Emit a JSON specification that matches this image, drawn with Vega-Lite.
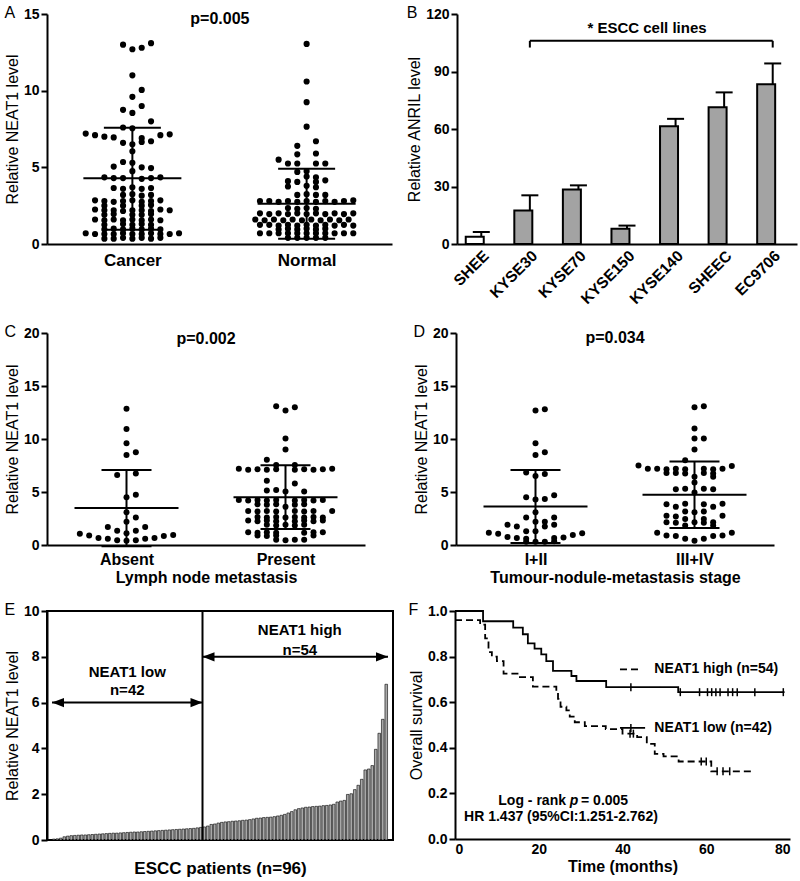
{
"$schema": "https://vega.github.io/schema/vega-lite/v6.json",
"background": "white",
"padding": {"left": 3, "top": 5, "right": 5, "bottom": 3},
"config": {
 "font": "Liberation Sans",
 "view": {"stroke": null},
 "axis": {"grid": false, "domainColor": "black", "domainWidth": 2, "tickColor": "black", "tickWidth": 2, "tickSize": 6, "labelColor": "black", "labelFontSize": 14, "labelFontWeight": "bold", "labelPadding": 2, "titleColor": "black", "titleFontSize": 16, "titleFontWeight": "normal", "titlePadding": 3, "labelFont": "Liberation Sans", "titleFont": "Liberation Sans"},
 "title": {"fontSize": 16, "fontWeight": "normal", "anchor": "start", "color": "black", "font": "Liberation Sans", "offset": -14}
},
"datasets": {
 "A": [
  {"g":"Cancer","s":-1,"v":13.0},{"g":"Cancer","s":0,"v":12.7},{"g":"Cancer","s":1,"v":12.8},{"g":"Cancer","s":2,"v":13.1},
  {"g":"Cancer","s":0,"v":11.0},{"g":"Cancer","s":1,"v":10.05},{"g":"Cancer","s":0,"v":9.6},{"g":"Cancer","s":1,"v":9.0},{"g":"Cancer","s":-1,"v":8.75},{"g":"Cancer","s":0,"v":8.55},{"g":"Cancer","s":2,"v":8.0},{"g":"Cancer","s":-1,"v":7.6},{"g":"Cancer","s":0,"v":7.55},
  {"g":"Cancer","s":-5,"v":7.2},{"g":"Cancer","s":-4,"v":7.1},{"g":"Cancer","s":-3,"v":7.0},{"g":"Cancer","s":-2,"v":6.95},{"g":"Cancer","s":1,"v":6.9},{"g":"Cancer","s":3,"v":7.1},{"g":"Cancer","s":4,"v":7.15},
  {"g":"Cancer","s":-1,"v":6.6},{"g":"Cancer","s":0,"v":6.5},{"g":"Cancer","s":1,"v":6.65},{"g":"Cancer","s":2,"v":6.7},{"g":"Cancer","s":0,"v":6.05},{"g":"Cancer","s":-1,"v":5.35},{"g":"Cancer","s":0,"v":5.3},{"g":"Cancer","s":-2,"v":5.05},{"g":"Cancer","s":1,"v":5.0},{"g":"Cancer","s":2,"v":4.95},{"g":"Cancer","s":0,"v":4.75},
  {"g":"Cancer","s":-3,"v":4.35},{"g":"Cancer","s":-2,"v":4.3},{"g":"Cancer","s":-1,"v":4.3},{"g":"Cancer","s":1,"v":4.25},{"g":"Cancer","s":2,"v":4.3},{"g":"Cancer","s":3,"v":4.35},
  {"g":"Cancer","s":-2,"v":3.65},{"g":"Cancer","s":-1,"v":3.6},{"g":"Cancer","s":0,"v":3.7},{"g":"Cancer","s":1,"v":3.6},{"g":"Cancer","s":2,"v":3.65},
  {"g":"Cancer","s":-1,"v":3.2},{"g":"Cancer","s":0,"v":3.25},{"g":"Cancer","s":1,"v":3.15},{"g":"Cancer","s":2,"v":3.2},
  {"g":"Cancer","s":-4,"v":2.85},{"g":"Cancer","s":-3,"v":2.8},{"g":"Cancer","s":-2,"v":2.75},{"g":"Cancer","s":-1,"v":2.8},{"g":"Cancer","s":0,"v":2.85},{"g":"Cancer","s":1,"v":2.75},{"g":"Cancer","s":2,"v":2.8},{"g":"Cancer","s":3,"v":2.85},
  {"g":"Cancer","s":-3,"v":2.5},{"g":"Cancer","s":-1,"v":2.5},{"g":"Cancer","s":1,"v":2.5},{"g":"Cancer","s":2,"v":2.55},
  {"g":"Cancer","s":-4,"v":2.25},{"g":"Cancer","s":-3,"v":2.2},{"g":"Cancer","s":-2,"v":2.2},{"g":"Cancer","s":-1,"v":2.15},{"g":"Cancer","s":0,"v":2.2},{"g":"Cancer","s":1,"v":2.2},{"g":"Cancer","s":2,"v":2.15},{"g":"Cancer","s":3,"v":2.25},{"g":"Cancer","s":4,"v":2.2},
  {"g":"Cancer","s":-3,"v":1.9},{"g":"Cancer","s":-2,"v":1.95},{"g":"Cancer","s":0,"v":1.9},{"g":"Cancer","s":1,"v":1.9},{"g":"Cancer","s":2,"v":1.95},
  {"g":"Cancer","s":-4,"v":1.6},{"g":"Cancer","s":-3,"v":1.55},{"g":"Cancer","s":-2,"v":1.6},{"g":"Cancer","s":-1,"v":1.55},{"g":"Cancer","s":0,"v":1.6},{"g":"Cancer","s":1,"v":1.55},{"g":"Cancer","s":2,"v":1.6},{"g":"Cancer","s":3,"v":1.55},
  {"g":"Cancer","s":-3,"v":1.25},{"g":"Cancer","s":-1,"v":1.3},{"g":"Cancer","s":0,"v":1.25},{"g":"Cancer","s":1,"v":1.3},{"g":"Cancer","s":2,"v":1.25},
  {"g":"Cancer","s":-3,"v":0.95},{"g":"Cancer","s":-2,"v":1.0},{"g":"Cancer","s":-1,"v":0.95},{"g":"Cancer","s":0,"v":1.0},{"g":"Cancer","s":1,"v":0.95},{"g":"Cancer","s":2,"v":1.0},{"g":"Cancer","s":3,"v":0.95},
  {"g":"Cancer","s":-5,"v":0.7},{"g":"Cancer","s":-4,"v":0.65},{"g":"Cancer","s":-3,"v":0.65},{"g":"Cancer","s":-2,"v":0.65},{"g":"Cancer","s":-1,"v":0.7},{"g":"Cancer","s":0,"v":0.65},{"g":"Cancer","s":1,"v":0.65},{"g":"Cancer","s":2,"v":0.7},{"g":"Cancer","s":3,"v":0.65},{"g":"Cancer","s":4,"v":0.65},{"g":"Cancer","s":5,"v":0.7},
  {"g":"Cancer","s":-3,"v":0.35},{"g":"Cancer","s":-2,"v":0.35},{"g":"Cancer","s":-1,"v":0.4},{"g":"Cancer","s":0,"v":0.35},{"g":"Cancer","s":1,"v":0.4},{"g":"Cancer","s":2,"v":0.35},{"g":"Cancer","s":3,"v":0.4},
  {"g":"Normal","s":0,"v":13.05},{"g":"Normal","s":0,"v":10.6},{"g":"Normal","s":0,"v":9.25},{"g":"Normal","s":0,"v":7.65},{"g":"Normal","s":1,"v":6.7},{"g":"Normal","s":-1,"v":6.4},{"g":"Normal","s":-1,"v":5.85},{"g":"Normal","s":1,"v":5.9},
  {"g":"Normal","s":-3,"v":5.5},{"g":"Normal","s":-2,"v":5.25},{"g":"Normal","s":-1,"v":5.25},{"g":"Normal","s":1,"v":5.25},{"g":"Normal","s":2,"v":5.25},
  {"g":"Normal","s":-1,"v":4.7},{"g":"Normal","s":0,"v":4.75},{"g":"Normal","s":0,"v":4.4},{"g":"Normal","s":1,"v":4.35},
  {"g":"Normal","s":-2,"v":4.1},{"g":"Normal","s":-1,"v":4.05},{"g":"Normal","s":1,"v":4.05},{"g":"Normal","s":2,"v":4.15},
  {"g":"Normal","s":-2,"v":3.75},{"g":"Normal","s":0,"v":3.8},{"g":"Normal","s":1,"v":3.7},
  {"g":"Normal","s":-1,"v":3.2},{"g":"Normal","s":0,"v":3.25},{"g":"Normal","s":1,"v":3.2},{"g":"Normal","s":2,"v":3.2},
  {"g":"Normal","s":-5,"v":2.8},{"g":"Normal","s":-4,"v":2.8},{"g":"Normal","s":-3,"v":2.75},{"g":"Normal","s":-2,"v":2.8},{"g":"Normal","s":-1,"v":2.75},{"g":"Normal","s":0,"v":2.8},{"g":"Normal","s":1,"v":2.75},{"g":"Normal","s":2,"v":2.8},{"g":"Normal","s":3,"v":2.75},{"g":"Normal","s":4,"v":2.8},{"g":"Normal","s":5,"v":2.85},
  {"g":"Normal","s":-2,"v":2.35},{"g":"Normal","s":-1,"v":2.3},{"g":"Normal","s":0,"v":2.35},{"g":"Normal","s":1,"v":2.3},
  {"g":"Normal","s":-5,"v":2.0},{"g":"Normal","s":-4,"v":1.95},{"g":"Normal","s":-3,"v":2.0},{"g":"Normal","s":-2,"v":1.95},{"g":"Normal","s":-1,"v":2.0},{"g":"Normal","s":0,"v":1.95},{"g":"Normal","s":1,"v":2.0},{"g":"Normal","s":2,"v":1.95},{"g":"Normal","s":3,"v":2.0},{"g":"Normal","s":4,"v":1.95},{"g":"Normal","s":5,"v":2.0},
  {"g":"Normal","s":-5.5,"v":1.6},{"g":"Normal","s":-4.5,"v":1.55},{"g":"Normal","s":-3.5,"v":1.6},{"g":"Normal","s":-2.5,"v":1.55},{"g":"Normal","s":-1.5,"v":1.6},{"g":"Normal","s":-0.5,"v":1.55},{"g":"Normal","s":0.5,"v":1.6},{"g":"Normal","s":1.5,"v":1.55},{"g":"Normal","s":2.5,"v":1.6},{"g":"Normal","s":3.5,"v":1.55},{"g":"Normal","s":4.5,"v":1.6},
  {"g":"Normal","s":-5,"v":1.25},{"g":"Normal","s":-4,"v":1.25},{"g":"Normal","s":-3,"v":1.2},{"g":"Normal","s":-2,"v":1.25},{"g":"Normal","s":-1,"v":1.2},{"g":"Normal","s":0,"v":1.25},{"g":"Normal","s":1,"v":1.2},{"g":"Normal","s":2,"v":1.25},{"g":"Normal","s":3,"v":1.2},{"g":"Normal","s":4,"v":1.25},{"g":"Normal","s":5,"v":1.2},
  {"g":"Normal","s":-3,"v":0.95},{"g":"Normal","s":-2,"v":1.0},{"g":"Normal","s":-1,"v":0.95},{"g":"Normal","s":0,"v":1.0},{"g":"Normal","s":1,"v":0.95},{"g":"Normal","s":2,"v":1.0},
  {"g":"Normal","s":-5,"v":0.7},{"g":"Normal","s":-4,"v":0.7},{"g":"Normal","s":-3,"v":0.7},{"g":"Normal","s":-2,"v":0.7},{"g":"Normal","s":-1,"v":0.7},{"g":"Normal","s":0,"v":0.7},{"g":"Normal","s":1,"v":0.7},{"g":"Normal","s":2,"v":0.7},{"g":"Normal","s":3,"v":0.7},{"g":"Normal","s":4,"v":0.7},{"g":"Normal","s":5,"v":0.7},
  {"g":"Normal","s":-2,"v":0.4},{"g":"Normal","s":-1,"v":0.4},{"g":"Normal","s":0,"v":0.4},{"g":"Normal","s":1,"v":0.4},{"g":"Normal","s":2,"v":0.4}
 ],
 "Astat": [{"g":"Cancer","m":4.29,"lo":0.93,"hi":7.58},{"g":"Normal","m":2.62,"lo":0.35,"hi":4.9}],
 "B": [
  {"line":"SHEE","v":3.8,"err":6.2,"type":"normal"},
  {"line":"KYSE30","v":17.5,"err":25.4,"type":"ESCC"},
  {"line":"KYSE70","v":28.5,"err":30.6,"type":"ESCC"},
  {"line":"KYSE150","v":7.9,"err":9.6,"type":"ESCC"},
  {"line":"KYSE140","v":61.5,"err":65.3,"type":"ESCC"},
  {"line":"SHEEC","v":71.3,"err":79.1,"type":"ESCC"},
  {"line":"EC9706","v":83.4,"err":94.2,"type":"ESCC"}
 ],
 "C": [
  {"g":"Absent","s":0,"v":12.85},{"g":"Absent","s":0,"v":10.95},{"g":"Absent","s":0,"v":9.6},{"g":"Absent","s":1,"v":8.75},{"g":"Absent","s":0,"v":8.5},{"g":"Absent","s":1,"v":6.75},{"g":"Absent","s":-1,"v":6.6},{"g":"Absent","s":1,"v":4.75},{"g":"Absent","s":0,"v":4.5},{"g":"Absent","s":0,"v":3.1},{"g":"Absent","s":1,"v":2.6},{"g":"Absent","s":0,"v":2.2},{"g":"Absent","s":-2,"v":1.7},{"g":"Absent","s":2,"v":1.7},{"g":"Absent","s":-1,"v":1.35},{"g":"Absent","s":1,"v":1.35},{"g":"Absent","s":0,"v":1.1},{"g":"Absent","s":-5,"v":1.05},{"g":"Absent","s":-4,"v":0.9},{"g":"Absent","s":4,"v":0.85},{"g":"Absent","s":5,"v":0.95},{"g":"Absent","s":-3,"v":0.65},{"g":"Absent","s":-2,"v":0.6},{"g":"Absent","s":2,"v":0.6},{"g":"Absent","s":3,"v":0.65},{"g":"Absent","s":-1,"v":0.45},{"g":"Absent","s":0,"v":0.4},{"g":"Absent","s":1,"v":0.45},
  {"g":"Present","s":-1,"v":13.1},{"g":"Present","s":1,"v":13.0},{"g":"Present","s":0,"v":12.7},{"g":"Present","s":0,"v":10.05},{"g":"Present","s":0,"v":9.0},{"g":"Present","s":-2,"v":8.05},{"g":"Present","s":-1,"v":7.55},{"g":"Present","s":1,"v":7.55},
  {"g":"Present","s":-5,"v":7.2},{"g":"Present","s":-4,"v":7.1},{"g":"Present","s":-3,"v":7.15},{"g":"Present","s":-2,"v":7.1},{"g":"Present","s":-1,"v":7.15},{"g":"Present","s":1,"v":7.1},{"g":"Present","s":2,"v":7.15},{"g":"Present","s":3,"v":7.1},{"g":"Present","s":4,"v":7.15},{"g":"Present","s":5,"v":7.2},
  {"g":"Present","s":-2,"v":6.05},{"g":"Present","s":1,"v":5.8},{"g":"Present","s":-2,"v":5.15},{"g":"Present","s":-1,"v":5.2},{"g":"Present","s":0,"v":5.05},{"g":"Present","s":2,"v":5.05},
  {"g":"Present","s":-5,"v":4.25},{"g":"Present","s":-4,"v":4.2},{"g":"Present","s":-3,"v":4.25},{"g":"Present","s":-2,"v":4.2},{"g":"Present","s":-1,"v":4.25},{"g":"Present","s":1,"v":4.2},{"g":"Present","s":2,"v":4.25},{"g":"Present","s":3,"v":4.2},{"g":"Present","s":4,"v":4.25},
  {"g":"Present","s":-3,"v":3.85},{"g":"Present","s":-2,"v":3.8},{"g":"Present","s":-1,"v":3.85},{"g":"Present","s":1,"v":3.8},{"g":"Present","s":2,"v":3.85},{"g":"Present","s":0,"v":3.6},
  {"g":"Present","s":-4,"v":3.2},{"g":"Present","s":-3,"v":3.15},{"g":"Present","s":-2,"v":3.2},{"g":"Present","s":-1,"v":3.15},{"g":"Present","s":1,"v":3.2},{"g":"Present","s":2,"v":3.15},{"g":"Present","s":3,"v":3.2},{"g":"Present","s":5,"v":3.2},
  {"g":"Present","s":-3,"v":2.65},{"g":"Present","s":-2,"v":2.6},{"g":"Present","s":-1,"v":2.65},{"g":"Present","s":0,"v":2.6},{"g":"Present","s":1,"v":2.65},{"g":"Present","s":2,"v":2.6},{"g":"Present","s":3,"v":2.65},{"g":"Present","s":4,"v":2.6},
  {"g":"Present","s":-4,"v":2.3},{"g":"Present","s":-3,"v":2.25},{"g":"Present","s":-2,"v":2.3},{"g":"Present","s":-1,"v":2.25},{"g":"Present","s":1,"v":2.25},{"g":"Present","s":2,"v":2.3},{"g":"Present","s":3,"v":2.25},{"g":"Present","s":4,"v":2.3},
  {"g":"Present","s":-2,"v":1.9},{"g":"Present","s":-1,"v":1.85},{"g":"Present","s":0,"v":1.9},{"g":"Present","s":1,"v":1.85},{"g":"Present","s":2,"v":1.9},
  {"g":"Present","s":-4,"v":1.2},{"g":"Present","s":-3,"v":1.15},{"g":"Present","s":-2,"v":1.2},{"g":"Present","s":-1,"v":1.15},{"g":"Present","s":2,"v":1.15},{"g":"Present","s":3,"v":1.2},{"g":"Present","s":4,"v":1.2},
  {"g":"Present","s":-3,"v":0.9},{"g":"Present","s":-2,"v":0.85},{"g":"Present","s":-1,"v":0.9},{"g":"Present","s":3,"v":0.9},
  {"g":"Present","s":-1,"v":0.5},{"g":"Present","s":0,"v":0.45},{"g":"Present","s":1,"v":0.5},{"g":"Present","s":2,"v":0.5}
 ],
 "Cstat": [{"g":"Absent","m":3.48,"lo":-0.12,"hi":7.08},{"g":"Present","m":4.51,"lo":1.5,"hi":7.52}],
 "D": [
  {"g":"I+II","s":0,"v":12.7},{"g":"I+II","s":1,"v":12.8},{"g":"I+II","s":0,"v":9.6},{"g":"I+II","s":1,"v":8.75},{"g":"I+II","s":0,"v":8.5},{"g":"I+II","s":-1,"v":6.85},{"g":"I+II","s":1,"v":6.7},{"g":"I+II","s":0,"v":6.5},{"g":"I+II","s":2,"v":4.7},{"g":"I+II","s":-1,"v":4.5},{"g":"I+II","s":0,"v":4.3},{"g":"I+II","s":1,"v":4.35},{"g":"I+II","s":0,"v":3.1},{"g":"I+II","s":-1,"v":2.6},{"g":"I+II","s":2,"v":2.6},{"g":"I+II","s":0,"v":2.2},{"g":"I+II","s":1,"v":2.2},{"g":"I+II","s":-3,"v":1.9},{"g":"I+II","s":2,"v":1.9},{"g":"I+II","s":-2,"v":1.75},{"g":"I+II","s":1,"v":1.75},{"g":"I+II","s":-1,"v":1.3},{"g":"I+II","s":0,"v":1.3},{"g":"I+II","s":-5,"v":1.15},{"g":"I+II","s":-4,"v":1.05},{"g":"I+II","s":5,"v":1.1},{"g":"I+II","s":4,"v":0.95},{"g":"I+II","s":-3,"v":0.75},{"g":"I+II","s":-2,"v":0.65},{"g":"I+II","s":-1,"v":0.6},{"g":"I+II","s":2,"v":0.65},{"g":"I+II","s":3,"v":0.7},{"g":"I+II","s":-1,"v":0.3},{"g":"I+II","s":0,"v":0.3},{"g":"I+II","s":1,"v":0.3},{"g":"I+II","s":2,"v":0.35},
  {"g":"III+IV","s":1,"v":13.1},{"g":"III+IV","s":0,"v":13.0},{"g":"III+IV","s":0,"v":11.0},{"g":"III+IV","s":0,"v":10.05},{"g":"III+IV","s":1,"v":10.05},{"g":"III+IV","s":0,"v":9.0},{"g":"III+IV","s":-1,"v":8.0},{"g":"III+IV","s":-6,"v":7.5},{"g":"III+IV","s":4,"v":7.45},
  {"g":"III+IV","s":-5,"v":7.2},{"g":"III+IV","s":-4,"v":7.2},{"g":"III+IV","s":-3,"v":7.15},{"g":"III+IV","s":-2,"v":7.2},{"g":"III+IV","s":-1,"v":7.15},{"g":"III+IV","s":1,"v":7.2},{"g":"III+IV","s":2,"v":7.15},{"g":"III+IV","s":3,"v":7.2},
  {"g":"III+IV","s":-3,"v":6.8},{"g":"III+IV","s":-2,"v":6.8},{"g":"III+IV","s":-1,"v":6.75},{"g":"III+IV","s":1,"v":6.8},{"g":"III+IV","s":2,"v":6.75},{"g":"III+IV","s":0,"v":6.45},{"g":"III+IV","s":2,"v":6.45},{"g":"III+IV","s":0,"v":5.9},
  {"g":"III+IV","s":-2,"v":5.25},{"g":"III+IV","s":-1,"v":5.3},{"g":"III+IV","s":1,"v":5.3},{"g":"III+IV","s":2,"v":5.25},{"g":"III+IV","s":0,"v":4.95},
  {"g":"III+IV","s":-3,"v":3.85},{"g":"III+IV","s":-1,"v":3.9},{"g":"III+IV","s":1,"v":3.85},{"g":"III+IV","s":3,"v":3.9},{"g":"III+IV","s":-2,"v":3.6},{"g":"III+IV","s":2,"v":3.6},
  {"g":"III+IV","s":-1,"v":3.15},{"g":"III+IV","s":0,"v":3.1},{"g":"III+IV","s":1,"v":3.15},
  {"g":"III+IV","s":-3,"v":2.75},{"g":"III+IV","s":-2,"v":2.7},{"g":"III+IV","s":3,"v":2.75},{"g":"III+IV","s":-1,"v":2.45},{"g":"III+IV","s":1,"v":2.45},
  {"g":"III+IV","s":-3,"v":2.15},{"g":"III+IV","s":-2,"v":2.1},{"g":"III+IV","s":0,"v":2.15},{"g":"III+IV","s":1,"v":2.1},{"g":"III+IV","s":2,"v":2.15},{"g":"III+IV","s":-1,"v":1.85},{"g":"III+IV","s":2,"v":1.85},
  {"g":"III+IV","s":-4,"v":1.15},{"g":"III+IV","s":4,"v":1.15},
  {"g":"III+IV","s":-3,"v":0.9},{"g":"III+IV","s":-2,"v":0.85},{"g":"III+IV","s":2,"v":0.85},{"g":"III+IV","s":3,"v":0.9},
  {"g":"III+IV","s":-1,"v":0.6},{"g":"III+IV","s":1,"v":0.6},{"g":"III+IV","s":0,"v":0.4}
 ],
 "Dstat": [{"g":"I+II","m":3.64,"lo":0.19,"hi":7.08},{"g":"III+IV","m":4.73,"lo":1.6,"hi":7.87}],
 "E": [
  {"p":1,"v":0.04},{"p":2,"v":0.05},{"p":3,"v":0.08},{"p":4,"v":0.14},{"p":5,"v":0.17},{"p":6,"v":0.19},{"p":7,"v":0.2},{"p":8,"v":0.21},{"p":9,"v":0.22},{"p":10,"v":0.22},
  {"p":11,"v":0.23},{"p":12,"v":0.24},{"p":13,"v":0.25},{"p":14,"v":0.26},{"p":15,"v":0.27},{"p":16,"v":0.28},{"p":17,"v":0.29},{"p":18,"v":0.3},{"p":19,"v":0.3},{"p":20,"v":0.31},
  {"p":21,"v":0.32},{"p":22,"v":0.33},{"p":23,"v":0.34},{"p":24,"v":0.35},{"p":25,"v":0.35},{"p":26,"v":0.36},{"p":27,"v":0.37},{"p":28,"v":0.38},{"p":29,"v":0.39},{"p":30,"v":0.4},
  {"p":31,"v":0.41},{"p":32,"v":0.42},{"p":33,"v":0.43},{"p":34,"v":0.44},{"p":35,"v":0.45},{"p":36,"v":0.46},{"p":37,"v":0.47},{"p":38,"v":0.48},{"p":39,"v":0.49},{"p":40,"v":0.5},
  {"p":41,"v":0.51},{"p":42,"v":0.53},{"p":43,"v":0.55},{"p":44,"v":0.57},{"p":45,"v":0.61},{"p":46,"v":0.68},{"p":47,"v":0.7},{"p":48,"v":0.74},{"p":49,"v":0.77},{"p":50,"v":0.79},
  {"p":51,"v":0.8},{"p":52,"v":0.82},{"p":53,"v":0.83},{"p":54,"v":0.84},{"p":55,"v":0.86},{"p":56,"v":0.87},{"p":57,"v":0.89},{"p":58,"v":0.92},{"p":59,"v":0.95},{"p":60,"v":0.96},
  {"p":61,"v":0.98},{"p":62,"v":0.99},{"p":63,"v":1.0},{"p":64,"v":1.02},{"p":65,"v":1.05},{"p":66,"v":1.08},{"p":67,"v":1.12},{"p":68,"v":1.18},{"p":69,"v":1.24},{"p":70,"v":1.32},
  {"p":71,"v":1.37},{"p":72,"v":1.4},{"p":73,"v":1.43},{"p":74,"v":1.44},{"p":75,"v":1.46},{"p":76,"v":1.47},{"p":77,"v":1.48},{"p":78,"v":1.5},{"p":79,"v":1.51},{"p":80,"v":1.53},
  {"p":81,"v":1.56},{"p":82,"v":1.66},{"p":83,"v":1.7},{"p":84,"v":1.73},{"p":85,"v":1.99},{"p":86,"v":2.02},{"p":87,"v":2.2},{"p":88,"v":2.39},{"p":89,"v":2.65},{"p":90,"v":3.06},
  {"p":91,"v":3.1},{"p":92,"v":3.25},{"p":93,"v":3.96},{"p":94,"v":4.66},{"p":95,"v":5.27},{"p":96,"v":6.8}
 ],
 "km": [
  {"id":"low","grp":"low","t":0,"s":1.0},{"id":"low","grp":"low","t":6.7,"s":0.955},{"id":"low","grp":"low","t":13.9,"s":0.927},{"id":"low","grp":"low","t":16.2,"s":0.898},{"id":"low","grp":"low","t":17.4,"s":0.858},{"id":"low","grp":"low","t":19.0,"s":0.835},{"id":"low","grp":"low","t":20.6,"s":0.81},{"id":"low","grp":"low","t":21.8,"s":0.78},{"id":"low","grp":"low","t":23.4,"s":0.737},{"id":"low","grp":"low","t":27.8,"s":0.715},{"id":"low","grp":"low","t":29.0,"s":0.693},{"id":"low","grp":"low","t":36.1,"s":0.666},{"id":"low","grp":"low","t":53.3,"s":0.644},{"id":"low","grp":"low","t":78.7,"s":0.644},
  {"id":"high","grp":"high","t":0,"s":0.96},{"id":"high","grp":"high","t":6.0,"s":0.94},{"id":"high","grp":"high","t":7.2,"s":0.88},{"id":"high","grp":"high","t":8.0,"s":0.82},{"id":"high","grp":"high","t":8.8,"s":0.8},{"id":"high","grp":"high","t":10.0,"s":0.78},{"id":"high","grp":"high","t":11.6,"s":0.725},{"id":"high","grp":"high","t":15.5,"s":0.71},{"id":"high","grp":"high","t":18.6,"s":0.668},{"id":"high","grp":"high","t":24.2,"s":0.647},{"id":"high","grp":"high","t":24.6,"s":0.615},{"id":"high","grp":"high","t":25.2,"s":0.58},{"id":"high","grp":"high","t":26.6,"s":0.564},{"id":"high","grp":"high","t":27.4,"s":0.537},{"id":"high","grp":"high","t":28.6,"s":0.512},{"id":"high","grp":"high","t":31.0,"s":0.495},{"id":"high","grp":"high","t":36.0,"s":0.482},{"id":"high","grp":"high","t":40.0,"s":0.462},{"id":"high","grp":"high","t":43.5,"s":0.447},{"id":"high","grp":"high","t":45.8,"s":0.417},{"id":"high","grp":"high","t":47.7,"s":0.373},{"id":"high","grp":"high","t":49.8,"s":0.362},{"id":"high","grp":"high","t":53.4,"s":0.34},{"id":"high","grp":"high","t":61.2,"s":0.297},{"id":"high","grp":"high","t":71.6,"s":0.297},
  {"id":"highleg","grp":"high","t":39.4,"s":0.744},{"id":"highleg","grp":"high","t":44.6,"s":0.744},
  {"id":"lowleg","grp":"low","t":39.4,"s":0.487},{"id":"lowleg","grp":"low","t":45.4,"s":0.487}
 ],
 "kmcens": [
  {"t":42.0,"s":0.666},{"t":53.8,"s":0.644},{"t":58.4,"s":0.644},{"t":60.3,"s":0.644},{"t":61.3,"s":0.644},{"t":62.3,"s":0.644},{"t":63.3,"s":0.644},{"t":65.2,"s":0.644},{"t":66.3,"s":0.644},{"t":67.4,"s":0.644},{"t":71.6,"s":0.644},{"t":78.4,"s":0.644},
  {"t":41.8,"s":0.462},{"t":42.6,"s":0.462},{"t":58.8,"s":0.34},{"t":60.0,"s":0.34},{"t":62.6,"s":0.297},{"t":64.0,"s":0.297},{"t":65.6,"s":0.297},
  {"t":42.0,"s":0.487}
 ],
 "kmtext": [
  {"t":26.5,"s":0.168,"label":"Log - rank","style":"normal","al":"right"},
  {"t":28.4,"s":0.168,"label":"p","style":"italic","al":"center"},
  {"t":30.1,"s":0.168,"label":"= 0.005","style":"normal","al":"left"}
 ]
},
"vconcat": [
 {"hconcat": [
  {"width": 345, "height": 230, "title": {"text": "A"},
   "layer": [
    {"data": {"name": "A"}, "mark": {"type": "circle", "size": 38, "color": "black", "opacity": 1},
     "encoding": {
      "x": {"field": "g", "type": "nominal", "scale": {"type": "point", "padding": 0.49, "domain": ["Cancer", "Normal"]}, "axis": {"title": null, "labelAngle": 0, "ticks": false, "labelFontSize": 17, "labelPadding": 8}},
      "xOffset": {"field": "s", "type": "quantitative", "scale": {"domain": [-6, 6], "range": [-56, 56]}},
      "y": {"field": "v", "type": "quantitative", "scale": {"domain": [0, 15], "nice": false}, "axis": {"values": [0, 5, 10, 15], "title": "Relative NEAT1 level"}}}},
    {"data": {"name": "Astat"}, "mark": {"type": "rule", "strokeWidth": 2, "color": "black"},
     "encoding": {"x": {"field": "g", "type": "nominal", "scale": {"type": "point"}, "title": null}, "y": {"field": "lo", "type": "quantitative", "title": "Relative NEAT1 level"}, "y2": {"field": "hi"}}},
    {"data": {"name": "Astat"}, "mark": {"type": "tick", "orient": "horizontal", "size": 98, "thickness": 2, "color": "black", "opacity": 1},
     "encoding": {"x": {"field": "g", "type": "nominal", "scale": {"type": "point"}, "title": null}, "y": {"field": "m", "type": "quantitative", "title": "Relative NEAT1 level"}}},
    {"data": {"name": "Astat"}, "mark": {"type": "tick", "orient": "horizontal", "size": 57, "thickness": 2, "color": "black", "opacity": 1},
     "encoding": {"x": {"field": "g", "type": "nominal", "scale": {"type": "point"}, "title": null}, "y": {"field": "hi", "type": "quantitative", "title": "Relative NEAT1 level"}}},
    {"data": {"name": "Astat"}, "mark": {"type": "tick", "orient": "horizontal", "size": 57, "thickness": 2, "color": "black", "opacity": 1},
     "encoding": {"x": {"field": "g", "type": "nominal", "scale": {"type": "point"}, "title": null}, "y": {"field": "lo", "type": "quantitative", "title": "Relative NEAT1 level"}}},
    {"data": {"values": [{"g": "Cancer", "y": 14.7, "t": "p=0.005"}]}, "mark": {"type": "text", "fontSize": 16, "fontWeight": "bold", "color": "black", "dx": 87.5},
     "encoding": {"x": {"field": "g", "type": "nominal", "scale": {"type": "point"}, "title": null}, "y": {"field": "y", "type": "quantitative", "title": "Relative NEAT1 level"}, "text": {"field": "t"}}}
   ]},
  {"width": 340, "height": 230, "title": {"text": "B"},
   "layer": [
    {"data": {"name": "B"}, "mark": {"type": "bar", "stroke": "black", "strokeWidth": 2},
     "encoding": {
      "x": {"field": "line", "type": "nominal", "sort": null, "scale": {"domain": ["SHEE", "KYSE30", "KYSE70", "KYSE150", "KYSE140", "SHEEC", "EC9706"], "paddingInner": 0.36, "paddingOuter": 0.18}, "axis": {"title": null, "labelAngle": -45, "labelFontSize": 15.5, "ticks": false, "labelPadding": 4}},
      "y": {"field": "v", "type": "quantitative", "scale": {"domain": [0, 120], "nice": false}, "axis": {"values": [0, 30, 60, 90, 120], "title": "Relative ANRIL level"}},
      "color": {"field": "type", "type": "nominal", "scale": {"domain": ["normal", "ESCC"], "range": ["white", "#a3a3a3"]}, "legend": null}}},
    {"data": {"name": "B"}, "mark": {"type": "rule", "strokeWidth": 2, "color": "black"},
     "encoding": {"x": {"field": "line", "type": "nominal", "sort": null, "bandPosition": 0.5}, "y": {"field": "v", "type": "quantitative", "title": "Relative ANRIL level"}, "y2": {"field": "err"}}},
    {"data": {"name": "B"}, "mark": {"type": "tick", "orient": "horizontal", "size": 17, "thickness": 2, "color": "black", "opacity": 1},
     "encoding": {"x": {"field": "line", "type": "nominal", "sort": null, "bandPosition": 0.5}, "y": {"field": "err", "type": "quantitative", "title": "Relative ANRIL level"}}},
    {"data": {"values": [{"a": "KYSE30", "b": "EC9706", "y": 106}]}, "mark": {"type": "rule", "strokeWidth": 2, "color": "black"},
     "encoding": {"x": {"field": "a", "type": "nominal", "sort": null, "bandPosition": 0.5}, "x2": {"field": "b"}, "y": {"field": "y", "type": "quantitative", "title": "Relative ANRIL level"}}},
    {"data": {"values": [{"l": "KYSE30", "y1": 102.5, "y2": 106}, {"l": "EC9706", "y1": 102.5, "y2": 106}]}, "mark": {"type": "rule", "strokeWidth": 2, "color": "black"},
     "encoding": {"x": {"field": "l", "type": "nominal", "sort": null, "bandPosition": 0.5}, "y": {"field": "y1", "type": "quantitative", "title": "Relative ANRIL level"}, "y2": {"field": "y2"}}},
    {"data": {"values": [{"l": "KYSE150", "y": 112.7, "t": "* ESCC cell lines"}]}, "mark": {"type": "text", "fontSize": 15, "fontWeight": "bold", "color": "black", "dx": 20},
     "encoding": {"x": {"field": "l", "type": "nominal", "sort": null, "bandPosition": 0.5}, "y": {"field": "y", "type": "quantitative", "title": "Relative ANRIL level"}, "text": {"field": "t"}}}
   ]}
 ], "spacing": 14},
 {"hconcat": [
  {"width": 318, "height": 212, "title": {"text": "C"},
   "layer": [
    {"data": {"name": "C"}, "mark": {"type": "circle", "size": 36, "color": "black", "opacity": 1},
     "encoding": {
      "x": {"field": "g", "type": "nominal", "scale": {"type": "point", "padding": 0.5, "domain": ["Absent", "Present"]}, "axis": {"title": "Lymph node metastasis", "titleFontWeight": "bold", "titleFontSize": 16, "titlePadding": 2, "labelAngle": 0, "ticks": false, "labelFontSize": 16, "labelPadding": 6}},
      "xOffset": {"field": "s", "type": "quantitative", "scale": {"domain": [-6, 6], "range": [-51, 51]}},
      "y": {"field": "v", "type": "quantitative", "scale": {"domain": [0, 20], "nice": false}, "axis": {"values": [0, 5, 10, 15, 20], "title": "Relative NEAT1 level"}}}},
    {"data": {"name": "Cstat"}, "mark": {"type": "rule", "strokeWidth": 2, "color": "black"},
     "encoding": {"x": {"field": "g", "type": "nominal", "scale": {"type": "point"}}, "y": {"field": "lo", "type": "quantitative", "title": "Relative NEAT1 level"}, "y2": {"field": "hi"}}},
    {"data": {"name": "Cstat"}, "mark": {"type": "tick", "orient": "horizontal", "size": 104, "thickness": 2, "color": "black", "opacity": 1},
     "encoding": {"x": {"field": "g", "type": "nominal", "scale": {"type": "point"}}, "y": {"field": "m", "type": "quantitative", "title": "Relative NEAT1 level"}}},
    {"data": {"name": "Cstat"}, "mark": {"type": "tick", "orient": "horizontal", "size": 50, "thickness": 2, "color": "black", "opacity": 1},
     "encoding": {"x": {"field": "g", "type": "nominal", "scale": {"type": "point"}}, "y": {"field": "hi", "type": "quantitative", "title": "Relative NEAT1 level"}}},
    {"data": {"name": "Cstat"}, "mark": {"type": "tick", "orient": "horizontal", "size": 50, "thickness": 2, "color": "black", "opacity": 1},
     "encoding": {"x": {"field": "g", "type": "nominal", "scale": {"type": "point"}}, "y": {"field": "lo", "type": "quantitative", "title": "Relative NEAT1 level"}}},
    {"data": {"values": [{"g": "Absent", "y": 19.4, "t": "p=0.002"}]}, "mark": {"type": "text", "fontSize": 16, "fontWeight": "bold", "color": "black", "dx": 79.5},
     "encoding": {"x": {"field": "g", "type": "nominal", "scale": {"type": "point"}}, "y": {"field": "y", "type": "quantitative", "title": "Relative NEAT1 level"}, "text": {"field": "t"}}}
   ]},
  {"width": 318, "height": 212, "title": {"text": "D"},
   "layer": [
    {"data": {"name": "D"}, "mark": {"type": "circle", "size": 36, "color": "black", "opacity": 1},
     "encoding": {
      "x": {"field": "g", "type": "nominal", "scale": {"type": "point", "padding": 0.5, "domain": ["I+II", "III+IV"]}, "axis": {"title": "Tumour-nodule-metastasis stage", "titleFontWeight": "bold", "titleFontSize": 16, "titlePadding": 2, "labelAngle": 0, "ticks": false, "labelFontSize": 16, "labelPadding": 6}},
      "xOffset": {"field": "s", "type": "quantitative", "scale": {"domain": [-6, 6], "range": [-51, 51]}},
      "y": {"field": "v", "type": "quantitative", "scale": {"domain": [0, 20], "nice": false}, "axis": {"values": [0, 5, 10, 15, 20], "title": "Relative NEAT1 level"}}}},
    {"data": {"name": "Dstat"}, "mark": {"type": "rule", "strokeWidth": 2, "color": "black"},
     "encoding": {"x": {"field": "g", "type": "nominal", "scale": {"type": "point"}}, "y": {"field": "lo", "type": "quantitative", "title": "Relative NEAT1 level"}, "y2": {"field": "hi"}}},
    {"data": {"name": "Dstat"}, "mark": {"type": "tick", "orient": "horizontal", "size": 104, "thickness": 2, "color": "black", "opacity": 1},
     "encoding": {"x": {"field": "g", "type": "nominal", "scale": {"type": "point"}}, "y": {"field": "m", "type": "quantitative", "title": "Relative NEAT1 level"}}},
    {"data": {"name": "Dstat"}, "mark": {"type": "tick", "orient": "horizontal", "size": 50, "thickness": 2, "color": "black", "opacity": 1},
     "encoding": {"x": {"field": "g", "type": "nominal", "scale": {"type": "point"}}, "y": {"field": "hi", "type": "quantitative", "title": "Relative NEAT1 level"}}},
    {"data": {"name": "Dstat"}, "mark": {"type": "tick", "orient": "horizontal", "size": 50, "thickness": 2, "color": "black", "opacity": 1},
     "encoding": {"x": {"field": "g", "type": "nominal", "scale": {"type": "point"}}, "y": {"field": "lo", "type": "quantitative", "title": "Relative NEAT1 level"}}},
    {"data": {"values": [{"g": "I+II", "y": 19.5, "t": "p=0.034"}]}, "mark": {"type": "text", "fontSize": 16, "fontWeight": "bold", "color": "black", "dx": 79.5},
     "encoding": {"x": {"field": "g", "type": "nominal", "scale": {"type": "point"}}, "y": {"field": "y", "type": "quantitative", "title": "Relative NEAT1 level"}, "text": {"field": "t"}}}
   ]}
 ], "spacing": 48},
 {"hconcat": [
  {"width": 346, "height": 229, "title": {"text": "E"}, "view": {"stroke": "black", "strokeWidth": 2},
   "layer": [
    {"data": {"name": "E"}, "mark": {"type": "bar", "orient": "vertical", "width": 2.6, "fill": "#a8a8a8", "stroke": "black", "strokeWidth": 0.6},
     "encoding": {
      "x": {"field": "p", "type": "quantitative", "scale": {"domain": [0.5, 96.5], "nice": false, "zero": false}, "axis": {"labels": false, "ticks": false, "domain": false, "title": "ESCC patients (n=96)", "titleFontWeight": "bold", "titleFontSize": 17, "titlePadding": 20}},
      "y": {"field": "v", "type": "quantitative", "scale": {"domain": [0, 10], "nice": false}, "axis": {"values": [0, 2, 4, 6, 8, 10], "title": "Relative NEAT1 level"}}}},
    {"data": {"values": [{"x": 43.5}]}, "mark": {"type": "rule", "strokeWidth": 2, "color": "black"},
     "encoding": {"x": {"field": "x", "type": "quantitative", "scale": {"domain": [0.5, 96.5], "nice": false, "zero": false}}}},
    {"data": {"values": [{"y": 6, "x1": 0.5, "x2": 43.5}, {"y": 8, "x1": 43.5, "x2": 96.5}]}, "mark": {"type": "rule", "strokeWidth": 2, "color": "black"},
     "encoding": {"x": {"field": "x1", "type": "quantitative"}, "x2": {"field": "x2"}, "y": {"field": "y", "type": "quantitative"}}},
    {"data": {"values": [{"x": 0.5, "y": 6, "dir": "L"}, {"x": 43.5, "y": 6, "dir": "R"}, {"x": 43.5, "y": 8, "dir": "L"}, {"x": 96.5, "y": 8, "dir": "R"}]},
     "mark": {"type": "point", "filled": true, "size": 100, "color": "black", "opacity": 1},
     "encoding": {"x": {"field": "x", "type": "quantitative"}, "y": {"field": "y", "type": "quantitative"},
      "shape": {"field": "dir", "type": "nominal", "scale": {"domain": ["L", "R"], "range": ["M 0 0 L 2.4 -0.93 L 2.4 0.93 Z", "M 0 0 L -2.4 -0.93 L -2.4 0.93 Z"]}, "legend": null}}},
    {"data": {"values": [{"x": 22, "y": 7.35, "t": "NEAT1 low"}, {"x": 22, "y": 6.55, "t": "n=42"}, {"x": 71.3, "y": 9.16, "t": "NEAT1 high"}, {"x": 71.3, "y": 8.3, "t": "n=54"}]},
     "mark": {"type": "text", "fontSize": 15, "fontWeight": "bold", "color": "black"},
     "encoding": {"x": {"field": "x", "type": "quantitative"}, "y": {"field": "y", "type": "quantitative"}, "text": {"field": "t"}}}
   ]},
  {"width": 335, "height": 228, "title": {"text": "F"},
   "layer": [
    {"data": {"name": "km"}, "mark": {"type": "line", "interpolate": "step-after", "color": "black", "strokeWidth": 1.8},
     "encoding": {
      "x": {"field": "t", "type": "quantitative", "scale": {"domain": [0, 80], "nice": false}, "axis": {"values": [0, 20, 40, 60, 80], "ticks": false, "labelPadding": 3, "title": "Time (months)", "titleFontWeight": "bold", "titleFontSize": 16, "titlePadding": 2, "labelFontSize": 14}},
      "y": {"field": "s", "type": "quantitative", "scale": {"domain": [0, 1], "nice": false}, "axis": {"values": [0, 0.2, 0.4, 0.6, 0.8, 1], "format": ".1f", "title": "Overall survival"}},
      "detail": {"field": "id"},
      "strokeDash": {"field": "grp", "type": "nominal", "scale": {"domain": ["low", "high"], "range": [[1, 0], [7, 4]]}, "legend": null}}},
    {"data": {"name": "kmcens"}, "mark": {"type": "tick", "orient": "vertical", "size": 8, "thickness": 1.5, "color": "black", "opacity": 1},
     "encoding": {"x": {"field": "t", "type": "quantitative"}, "y": {"field": "s", "type": "quantitative"}}},
    {"data": {"values": [{"t": 47.6, "s": 0.744, "label": "NEAT1 high (n=54)"}, {"t": 47.6, "s": 0.487, "label": "NEAT1 low (n=42)"}]},
     "mark": {"type": "text", "align": "left", "fontSize": 14, "fontWeight": "bold", "color": "black"},
     "encoding": {"x": {"field": "t", "type": "quantitative"}, "y": {"field": "s", "type": "quantitative"}, "text": {"field": "label"}}},
    {"data": {"name": "kmtext"}, "transform": [{"filter": "datum.al == 'right'"}],
     "mark": {"type": "text", "align": "right", "fontSize": 14, "fontWeight": "bold", "color": "black"},
     "encoding": {"x": {"field": "t", "type": "quantitative"}, "y": {"field": "s", "type": "quantitative"}, "text": {"field": "label"}}},
    {"data": {"name": "kmtext"}, "transform": [{"filter": "datum.al == 'center'"}],
     "mark": {"type": "text", "align": "center", "fontSize": 14, "fontWeight": "bold", "fontStyle": "italic", "color": "black"},
     "encoding": {"x": {"field": "t", "type": "quantitative"}, "y": {"field": "s", "type": "quantitative"}, "text": {"field": "label"}}},
    {"data": {"name": "kmtext"}, "transform": [{"filter": "datum.al == 'left'"}],
     "mark": {"type": "text", "align": "left", "fontSize": 14, "fontWeight": "bold", "color": "black"},
     "encoding": {"x": {"field": "t", "type": "quantitative"}, "y": {"field": "s", "type": "quantitative"}, "text": {"field": "label"}}},
    {"data": {"values": [{"t": 25.3, "s": 0.095, "label": "HR 1.437 (95%CI:1.251-2.762)"}]},
     "mark": {"type": "text", "align": "center", "fontSize": 14, "fontWeight": "bold", "color": "black"},
     "encoding": {"x": {"field": "t", "type": "quantitative"}, "y": {"field": "s", "type": "quantitative"}, "text": {"field": "label"}}}
   ]}
 ], "spacing": 14}
],
"spacing": 16
}
